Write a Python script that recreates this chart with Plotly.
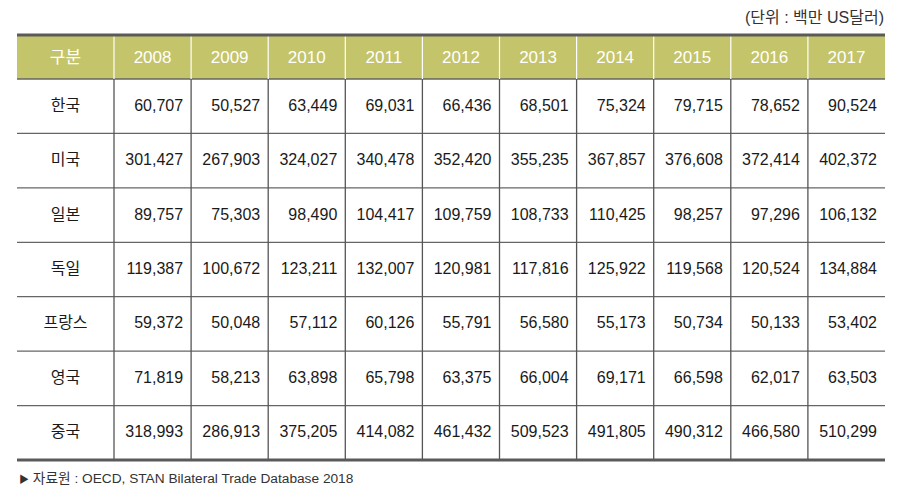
import plotly.graph_objects as go

years = ["2008", "2009", "2010", "2011", "2012", "2013", "2014", "2015", "2016", "2017"]
countries = ["한국", "미국", "일본", "독일", "프랑스", "영국", "중국"]
korea = [60707, 50527, 63449, 69031, 66436, 68501, 75324, 79715, 78652, 90524]
usa = [301427, 267903, 324027, 340478, 352420, 355235, 367857, 376608, 372414, 402372]
japan = [89757, 75303, 98490, 104417, 109759, 108733, 110425, 98257, 97296, 106132]
germany = [119387, 100672, 123211, 132007, 120981, 117816, 125922, 119568, 120524, 134884]
france = [59372, 50048, 57112, 60126, 55791, 56580, 55173, 50734, 50133, 53402]
uk = [71819, 58213, 63898, 65798, 63375, 66004, 69171, 66598, 62017, 63503]
china = [318993, 286913, 375205, 414082, 461432, 509523, 491805, 490312, 466580, 510299]
header_first = "구분"
unit_text = "(단위 : 백만 US달러)"
source_text = "<span style='font-size:10px'>▶</span> 자료원 : OECD, STAN Bilateral Trade Database 2018"

rows = [korea, usa, japan, germany, france, uk, china]

W, H = 912, 501
x0, x1 = 17, 885
ytop, yhead, ybot = 35, 79, 460
first_w, col_w = 97, 77.1
row_h = (ybot - yhead) / len(countries)
HEADER_COLOR = "#C4C46A"
# plotly tables top-align text; offset the (transparent) table so text is centred
text_off = 15.5
tbl_top = (ytop + yhead) / 2 + 1.2 - text_off
body_top = yhead + row_h / 2 - text_off

columns = [countries] + [[f"{r[i]:,}" for r in rows] for i in range(len(years))]

FONT = "Liberation Sans, Arial, Noto Sans CJK KR, sans-serif"
CLEAR = "rgba(0,0,0,0)"

fig = go.Figure(go.Table(
    domain=dict(x=[x0 / W, x1 / W], y=[0, 1 - tbl_top / H]),
    columnwidth=[first_w] + [col_w] * len(years),
    header=dict(
        values=[header_first] + years,
        fill_color=CLEAR,
        line=dict(color=CLEAR, width=0),
        font=dict(family=FONT, size=[17] + [17] * len(years), color="white"),
        align="center",
        height=body_top - tbl_top,
    ),
    cells=dict(
        values=columns,
        fill_color=CLEAR,
        line=dict(color=CLEAR, width=0),
        font=dict(family=FONT, size=[16] + [16] * len(years), color="#1a1a1a"),
        align=["center"] + ["right"] * len(years),
        height=row_h,
    ),
))

shapes = []
def px(x):
    return x / W
def py(y):
    return 1 - y / H

# header background
shapes.append(dict(type="rect", xref="paper", yref="paper", layer="below",
                   x0=px(x0), x1=px(x1), y0=py(ytop), y1=py(yhead),
                   line=dict(width=0), fillcolor=HEADER_COLOR))
# horizontal grid lines
for k in range(1, len(countries)):
    y = yhead + k * row_h
    shapes.append(dict(type="line", xref="paper", yref="paper", x0=px(x0), x1=px(x1),
                       y0=py(y), y1=py(y), line=dict(color="#666666", width=1.3)))
shapes.append(dict(type="line", xref="paper", yref="paper", x0=px(x0), x1=px(x1),
                   y0=py(yhead), y1=py(yhead), line=dict(color="#666666", width=1.5)))
# vertical lines
xs = x0 + first_w
for i in range(len(years)):
    shapes.append(dict(type="line", xref="paper", yref="paper", x0=px(xs), x1=px(xs),
                       y0=py(ytop), y1=py(yhead), line=dict(color="white", width=1.2)))
    shapes.append(dict(type="line", xref="paper", yref="paper", x0=px(xs), x1=px(xs),
                       y0=py(yhead), y1=py(ybot), line=dict(color="#555555", width=1.3)))
    xs += col_w
# thick top & bottom rules
for y in (ytop, ybot):
    shapes.append(dict(type="line", xref="paper", yref="paper", x0=px(x0), x1=px(x1),
                       y0=py(y), y1=py(y), line=dict(color="#5a5a5a", width=3)))

fig.update_layout(
    width=W, height=H,
    margin=dict(l=0, r=0, t=0, b=0),
    paper_bgcolor="white",
    shapes=shapes,
    annotations=[
        dict(text=unit_text, x=px(886), y=py(17), xref="paper", yref="paper",
             xanchor="right", yanchor="middle", showarrow=False,
             font=dict(family=FONT, size=16, color="#333333")),
        dict(text=source_text, x=px(17), y=py(478), xref="paper", yref="paper",
             xanchor="left", yanchor="middle", showarrow=False,
             font=dict(family=FONT, size=13.7, color="#333333")),
    ],
)

fig.write_html("out.html", config={"displayModeBar": False},
               post_script="document.body.style.margin='0';")
